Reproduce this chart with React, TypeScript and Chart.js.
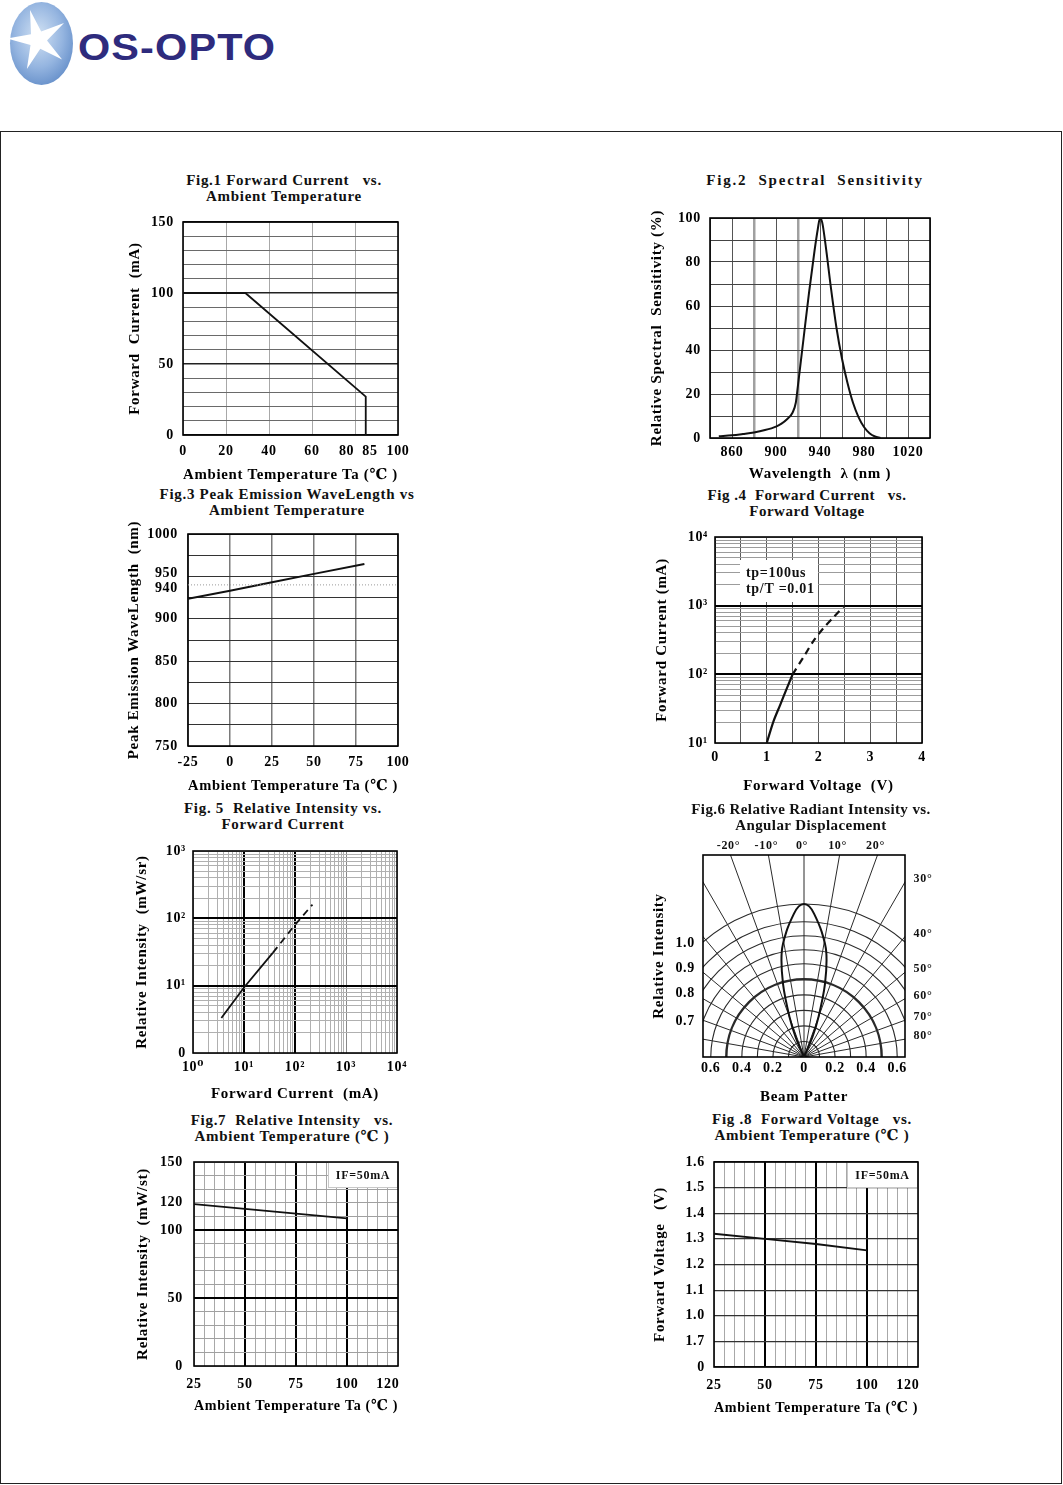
import React, { useEffect, useRef } from 'react';
import { Chart, registerables } from 'chart.js';

Chart.register(...registerables);

// ---------------- shared style ----------------
const SERIF = '"Liberation Serif", "Times New Roman", "DejaVu Serif", serif';
const TICK_SIZE = 14;
const AXIS_FONT = { family: SERIF, size: 15, weight: 'bold' };
const AXIS_LH = 15 * 1.2;
const INK = '#111111';
const NONE = 'rgba(0,0,0,0)';

// ---------------- Fig.1 Forward Current vs Ambient Temperature ----------------
const F1_TEMP = [0, 29, 85, 85];
const F1_CURRENT = [100, 100, 27, 0];
const F1_X_TICKS = [0, 20, 40, 60, 80, 85, 100];
const F1_X_LABELS = ['0', '20', '40', '60', '80    ', '  85', '100'];
const F1_Y_GRID = [0, 10, 20, 30, 40, 50, 60, 70, 80, 90, 100, 110, 120, 130, 140, 150];
const F1_Y_TICKS = [0, 50, 100, 150];
const F1_Y_LABELS = ['0', '50', '100', '150'];

// ---------------- Fig.2 Spectral Sensitivity ----------------
const F2_WAVELENGTH = [848, 860, 870, 880, 890, 900, 905, 910, 915, 918, 920, 925, 930, 935, 938, 940, 942, 945, 950, 955, 960, 965, 970, 975, 980, 985, 990, 995];
const F2_SENSITIVITY = [0.8, 1.2, 1.8, 2.5, 3.6, 5.2, 6.5, 8.5, 11.5, 16, 24, 45, 66, 85, 95, 100, 98, 88, 68, 50, 36, 25, 16, 9.5, 5, 2.2, 0.7, 0];
const F2_X_GRID = [840, 860, 880, 900, 920, 940, 960, 980, 1000, 1020, 1040];
const F2_X_TICKS = [860, 900, 940, 980, 1020];
const F2_X_LABELS = ['860', '900', '940', '980', '1020'];
const F2_Y_GRID = [0, 10, 20, 30, 40, 50, 60, 70, 80, 90, 100];
const F2_Y_TICKS = [0, 20, 40, 60, 80, 100];
const F2_Y_LABELS = ['0', '20', '40', '60', '80', '100'];

// ---------------- Fig.3 Peak Emission Wavelength vs Ambient Temperature ----------------
const F3_TEMP = [-25, 0, 25, 50, 80];
const F3_WAVELENGTH = [923.5, 933, 943, 953, 964.5];
const F3_REF_TEMP = [-25, 100];
const F3_REF_WAVELENGTH = [940, 940];
const F3_X_TICKS = [-25, 0, 25, 50, 75, 100];
const F3_X_LABELS = ['-25', '0', '25', '50', '75', '100'];
const F3_Y_GRID = [750, 775, 800, 825, 850, 875, 900, 925, 950, 975, 1000];
const F3_Y_TICKS = [750, 800, 850, 900, 940, 950, 1000];
const F3_Y_LABELS: (string | string[])[] = ['750', '800', '850', '900', ['', '940'], ['950', ''], '1000'];

// ---------------- Fig.4 Forward Current vs Forward Voltage ----------------
const F4_SOLID_V = [1.0, 1.13, 1.26, 1.39, 1.5];
const F4_SOLID_I = [10, 20.7, 36, 63, 100];
const F4_DASH_V = [1.5, 1.74, 1.9, 2.1, 2.29, 2.5];
const F4_DASH_I = [100, 194, 304, 475, 680, 1000];
const F4_X_GRID = [0, 0.5, 1, 1.5, 2, 2.5, 3, 3.5, 4];
const F4_X_TICKS = [0, 1, 2, 3, 4];
const F4_X_LABELS = ['0', '1', '2', '3', '4'];
const F4_Y_TICKS = [10, 100, 1000, 10000];
const F4_Y_LABELS = ['10¹', '10²', '10³', '10⁴'];
const F4_NOTE = ['tp=100us', 'tp/T =0.01'];

// ---------------- Fig.5 Relative Intensity vs Forward Current ----------------
const F5_SOLID_I = [3.6, 10, 37];
const F5_SOLID_P = [3.3, 9.4, 31];
const F5_DASH_I = [37, 100, 220];
const F5_DASH_P = [31, 80, 160];
const F5_X_TICKS = [1, 10, 100, 1000, 10000];
const F5_X_LABELS = ['10⁰', '10¹', '10²', '10³', '10⁴'];
const F5_Y_TICKS = [1, 10, 100, 1000];
const F5_Y_LABELS = ['0', '10¹', '10²', '10³'];

// ---------------- Fig.6 Relative Radiant Intensity vs Angular Displacement ----------------
const F6_ANGLE = [-30, -23, -20, -16, -12, -8, -4, -2, 0, 2, 4, 8, 12, 16, 20, 23, 30];
const F6_INTENSITY = [0, 0.135, 0.27, 0.49, 0.69, 0.815, 0.925, 0.97, 0.985, 0.97, 0.925, 0.815, 0.69, 0.49, 0.27, 0.135, 0];
const F6_RINGS = [0.1, 0.2, 0.3, 0.4, 0.5, 0.6, 0.69, 0.78, 0.87, 0.985];
const F6_THICK_RING = 0.5;
const F6_SPOKES = [-80, -70, -60, -50, -40, -30, -20, -10, 0, 10, 20, 30, 40, 50, 60, 70, 80];
const F6_TOP_ANGLES = [-20, -10, 0, 10, 20];
const F6_SIDE_ANGLES = [30, 40, 50, 60, 70, 80];
const F6_X_TICKS = [-0.6, -0.4, -0.2, 0, 0.2, 0.4, 0.6];
const F6_X_LABELS = ['0.6', '0.4', '0.2', '0', '0.2', '0.4', '0.6'];
const F6_Y_TICKS = [0.23, 0.41, 0.57, 0.73];
const F6_Y_LABELS = ['0.7', '0.8', '0.9', '1.0'];

// ---------------- Fig.7 Relative Intensity vs Ambient Temperature ----------------
const F7_TEMP = [25, 50, 75, 100];
const F7_INTENSITY = [119, 115.5, 112, 108.5];
const F7_Y_GRID = [0, 10, 20, 30, 40, 50, 60, 70, 80, 90, 100, 110, 120, 130, 140, 150];
const F7_Y_TICKS = [0, 50, 100, 120, 150];
const F7_Y_LABELS = ['0', '50', '100', '120', '150'];

// ---------------- Fig.8 Forward Voltage vs Ambient Temperature ----------------
const F8_TEMP = [25, 50, 75, 100];
const F8_VOLTAGE = [1.32, 1.3, 1.28, 1.255];
const F8_Y_TICKS = [0.8, 0.9, 1.0, 1.1, 1.2, 1.3, 1.4, 1.5, 1.6];
const F8_Y_LABELS = ['0', '1.7', '1.0', '1.1', '1.2', '1.3', '1.4', '1.5', '1.6'];

// shared temperature axis (Fig.7 / Fig.8)
const TEMP_GRID = [25, 30, 35, 40, 45, 50, 55, 60, 65, 70, 75, 80, 85, 90, 95, 100, 105, 110, 115, 120, 125];
const TEMP_MAJOR = [50, 75, 100];
const TEMP_TICKS = [25, 50, 75, 100, 120];
const TEMP_LABELS = ['25', '50', '75', '100', '120'];
const IF_NOTE = ['IF=50mA'];

// ---------------- helpers ----------------
const near = (a: number, b: number) => Math.abs(a - b) < 1e-9 * Math.max(1, Math.abs(b));
const inList = (v: number, list: number[]) => list.some((u) => near(v, u));

function labeler(values: number[], labels: any[]) {
  return (v: number) => {
    const i = values.findIndex((u) => near(v, u));
    return i >= 0 ? labels[i] : '';
  };
}

function logGrid(lo: number, hi: number) {
  const out: number[] = [];
  for (let e = lo; e < hi; e++) for (let m = 1; m < 10; m++) out.push(m * Math.pow(10, e));
  out.push(Math.pow(10, hi));
  return out;
}

function axis(o: any) {
  const grid: number[] = o.grid;
  const gridAndTicks = Array.from(new Set([...grid, ...o.ticks])).sort((a: number, b: number) => a - b);
  const lbl = labeler(o.ticks, o.labels);
  return {
    type: o.type || 'linear',
    min: o.min,
    max: o.max,
    afterBuildTicks: (s: any) => {
      s.ticks = gridAndTicks.map((v) => ({ value: v }));
    },
    grid: {
      display: o.showGrid !== false,
      drawTicks: false,
      color: (c: any) => (c.tick && inList(c.tick.value, grid) ? o.color(c.tick.value) : NONE),
      lineWidth: (c: any) => (c.tick && inList(c.tick.value, grid) ? o.width(c.tick.value) : 0),
    },
    border: { display: false },
    ticks: {
      font: (c: any) => ({
        family: SERIF,
        size: TICK_SIZE,
        weight: 'bold',
        lineHeight: c.tick && Array.isArray(lbl(c.tick.value)) ? 0.5 : 1.2,
      }),
      color: '#000',
      padding: o.pad,
      autoSkip: false,
      maxRotation: 0,
      minRotation: 0,
      callback: (v: number) => lbl(v),
    },
    title: { display: true, text: o.title, font: AXIS_FONT, color: '#000', padding: 0 },
  };
}

function series(xs: number[], ys: number[], extra: any = {}) {
  return {
    data: xs.map((x, i) => ({ x, y: ys[i] })),
    showLine: true,
    borderColor: INK,
    borderWidth: 2,
    pointRadius: 0,
    fill: false,
    tension: 0,
    ...extra,
  };
}

type Note = { side: 'left' | 'right'; dx: number; dy: number; w: number; h: number; lines: string[]; size: number; border?: boolean };

function paperPlugin(notes: Note[] = []) {
  return {
    id: 'paper',
    beforeDraw(chart: any) {
      chart.ctx.letterSpacing = '0.7px';
    },
    beforeDatasetsDraw(chart: any) {
      const { ctx, chartArea: a } = chart;
      ctx.save();
      notes.forEach((n) => {
        const x = n.side === 'left' ? a.left + n.dx : a.right - n.dx - n.w;
        const y = a.top + n.dy;
        ctx.fillStyle = '#ffffff';
        ctx.fillRect(x, y, n.w, n.h);
        if (n.border) {
          ctx.strokeStyle = '#c8c8c8';
          ctx.lineWidth = 1;
          ctx.strokeRect(x + 0.5, y + 0.5, n.w - 1, n.h - 1);
        }
        ctx.fillStyle = '#111';
        ctx.font = `bold ${n.size}px ${SERIF}`;
        ctx.textBaseline = 'middle';
        if (n.lines.length === 1) {
          ctx.textAlign = 'center';
          ctx.fillText(n.lines[0], x + n.w / 2, y + n.h / 2 + 1);
        } else {
          ctx.textAlign = 'left';
          const lh = n.h / (n.lines.length + 0.6);
          n.lines.forEach((t, i) => ctx.fillText(t, x + 6, y + lh * (0.8 + i)));
        }
      });
      ctx.strokeStyle = '#000';
      ctx.lineWidth = 1.6;
      ctx.strokeRect(a.left, a.top, a.right - a.left, a.bottom - a.top);
      ctx.restore();
    },
  };
}

const polarPlugin = {
  id: 'polar',
  beforeDatasetsDraw(chart: any) {
    const { ctx, chartArea: a, scales } = chart;
    const x = scales.x;
    const y = scales.y;
    const cx = x.getPixelForValue(0);
    const cy = y.getPixelForValue(0);
    const unit = x.getPixelForValue(1) - cx;
    ctx.save();
    ctx.beginPath();
    ctx.rect(a.left, a.top, a.right - a.left, a.bottom - a.top);
    ctx.clip();
    ctx.strokeStyle = '#2a2a2a';
    F6_SPOKES.forEach((deg) => {
      const t = (deg * Math.PI) / 180;
      ctx.lineWidth = 1;
      ctx.beginPath();
      ctx.moveTo(cx, cy);
      ctx.lineTo(x.getPixelForValue(3 * Math.sin(t)), y.getPixelForValue(3 * Math.cos(t)));
      ctx.stroke();
    });
    F6_RINGS.forEach((r) => {
      ctx.lineWidth = near(r, F6_THICK_RING) ? 2.4 : 1.1;
      ctx.beginPath();
      ctx.arc(cx, cy, r * unit, Math.PI, 2 * Math.PI);
      ctx.stroke();
    });
    ctx.restore();
  },
  afterDraw(chart: any) {
    const { ctx, chartArea: a, scales } = chart;
    const x = scales.x;
    const y = scales.y;
    ctx.save();
    ctx.fillStyle = '#111';
    ctx.font = `bold 12px ${SERIF}`;
    ctx.textBaseline = 'middle';
    ctx.textAlign = 'center';
    F6_TOP_ANGLES.forEach((deg) => {
      const xv = y.max * Math.tan((deg * Math.PI) / 180);
      ctx.fillText(`${deg}°`, x.getPixelForValue(xv) - 2, a.top - 9);
    });
    F6_SIDE_ANGLES.forEach((deg) => {
      const yv = x.max / Math.tan((deg * Math.PI) / 180);
      ctx.fillText(`${deg}°`, a.right + 18, y.getPixelForValue(yv) - 3);
    });
    ctx.restore();
  },
};

function makeConfig(datasets: any[], x: any, y: any, plugins: any[]) {
  return {
    type: 'scatter',
    data: { datasets },
    options: {
      animation: false,
      responsive: false,
      events: [],
      plugins: { legend: { display: false }, tooltip: { enabled: false } },
      scales: { x, y },
    },
    plugins,
  };
}

type Plot = { L: number; T: number; R: number; B: number };

function ChartCanvas({ plot, yTitleX, xTitleY, padT = 14, padR = 24, make }: { plot: Plot; yTitleX: number; xTitleY: number; padT?: number; padR?: number; make: () => any }) {
  const ref = useRef<HTMLCanvasElement>(null);
  const left = Math.round(yTitleX - AXIS_LH / 2);
  const top = plot.T - padT;
  const width = plot.R + padR - left;
  const height = Math.round(xTitleY + AXIS_LH / 2) - top;
  const yW = plot.L - left;
  const xH = height - padT - (plot.B - plot.T);
  useEffect(() => {
    if (!ref.current) return;
    const cfg = make();
    cfg.options.layout = { autoPadding: false, padding: { top: padT, right: padR, left: 0, bottom: 0 } };
    cfg.options.scales.x.afterFit = (s: any) => {
      s.height = xH;
      s.paddingLeft = 0;
      s.paddingRight = 0;
    };
    cfg.options.scales.y.afterFit = (s: any) => {
      s.width = yW;
      s.paddingTop = 0;
      s.paddingBottom = 0;
    };
    const chart = new Chart(ref.current, cfg);
    return () => chart.destroy();
  }, []);
  return <canvas ref={ref} width={width} height={height} style={{ position: 'absolute', left, top, width, height }} />;
}

function FigTitle({ cx, y, lines, spacing = 0.7 }: { cx: number; y: number; lines: string[]; spacing?: number }) {
  return (
    <div
      style={{
        position: 'absolute',
        left: cx - 220,
        width: 440,
        top: y - 8.5,
        textAlign: 'center',
        font: `bold 15px ${SERIF}`,
        lineHeight: '16.5px',
        letterSpacing: `${spacing}px`,
        color: '#111',
        whiteSpace: 'pre',
      }}
    >
      {lines.map((l, i) => (
        <div key={i}>{l}</div>
      ))}
    </div>
  );
}

function Logo() {
  const pts: string[] = [];
  for (let i = 0; i < 10; i++) {
    const r = i % 2 === 0 ? 31 : 9;
    const ang = ((-105 + i * 36) * Math.PI) / 180;
    pts.push(`${(38 + r * Math.cos(ang)).toFixed(1)},${(40 + r * Math.sin(ang)).toFixed(1)}`);
  }
  return (
    <>
      <svg style={{ position: 'absolute', left: 0, top: 0 }} width={80} height={90}>
        <defs>
          <radialGradient id="osg" cx="0.45" cy="0.4" r="0.7">
            <stop offset="0" stopColor="#d2e2f4" />
            <stop offset="0.55" stopColor="#95b5e0" />
            <stop offset="1" stopColor="#5a86c4" />
          </radialGradient>
        </defs>
        <ellipse cx={41.5} cy={43.5} rx={31.5} ry={41.5} fill="url(#osg)" />
        <polygon points={pts.join(' ')} fill="#ffffff" />
      </svg>
      <div
        style={{
          position: 'absolute',
          left: 78,
          top: 26,
          font: 'bold 37px "Liberation Sans", Arial, sans-serif',
          lineHeight: '44px',
          color: '#2e2b7d',
          transform: 'scaleX(1.12)',
          transformOrigin: 'left top',
          letterSpacing: '1px',
        }}
      >
        OS-OPTO
      </div>
    </>
  );
}

// ---------------- chart configs ----------------
const fig1 = () =>
  makeConfig(
    [series(F1_TEMP, F1_CURRENT, { borderWidth: 1.8 })],
    axis({ min: 0, max: 100, grid: [0, 20, 40, 60, 80, 100], ticks: F1_X_TICKS, labels: F1_X_LABELS, color: () => '#a8a8a8', width: () => 1, pad: 8, title: 'Ambient Temperature Ta (℃ )' }),
    axis({ min: 0, max: 150, grid: F1_Y_GRID, ticks: F1_Y_TICKS, labels: F1_Y_LABELS, color: (v: number) => (v % 50 === 0 ? '#222' : '#6a6a6a'), width: (v: number) => (v % 50 === 0 ? 1.5 : 1), pad: 9, title: 'Forward  Current  (mA)' }),
    [paperPlugin()]
  );

const fig2 = () =>
  makeConfig(
    [series(F2_WAVELENGTH, F2_SENSITIVITY, { cubicInterpolationMode: 'monotone', borderWidth: 2 })],
    axis({ min: 840, max: 1040, grid: F2_X_GRID, ticks: F2_X_TICKS, labels: F2_X_LABELS, color: (v: number) => (v === 880 || v === 920 ? '#a0a0a0' : '#555'), width: (v: number) => (v === 880 || v === 920 ? 2.5 : 1), pad: 6, title: 'Wavelength  λ (nm )' }),
    axis({ min: 0, max: 100, grid: F2_Y_GRID, ticks: F2_Y_TICKS, labels: F2_Y_LABELS, color: () => '#444', width: () => 1, pad: 9, title: 'Relative Spectral  Sensitivity (%)' }),
    [paperPlugin()]
  );

const fig3 = () =>
  makeConfig(
    [
      series(F3_REF_TEMP, F3_REF_WAVELENGTH, { borderColor: '#9a9a9a', borderWidth: 1, borderDash: [1, 2] }),
      series(F3_TEMP, F3_WAVELENGTH, { borderWidth: 2 }),
    ],
    axis({ min: -25, max: 100, grid: F3_X_TICKS, ticks: F3_X_TICKS, labels: F3_X_LABELS, color: () => '#7a7a7a', width: () => 1.5, pad: 8, title: 'Ambient Temperature Ta (℃ )' }),
    axis({ min: 750, max: 1000, grid: F3_Y_GRID, ticks: F3_Y_TICKS, labels: F3_Y_LABELS, color: () => '#333', width: () => 1, pad: 10, title: 'Peak Emission WaveLength  (nm)' }),
    [paperPlugin()]
  );

const fig4 = () =>
  makeConfig(
    [
      series(F4_SOLID_V, F4_SOLID_I, { tension: 0.3, borderWidth: 2.2 }),
      series(F4_DASH_V, F4_DASH_I, { tension: 0.3, borderWidth: 2.2, borderDash: [7, 5] }),
    ],
    axis({ min: 0, max: 4, grid: F4_X_GRID, ticks: F4_X_TICKS, labels: F4_X_LABELS, color: () => '#5a5a5a', width: () => 1, pad: 6, title: 'Forward Voltage  (V)' }),
    axis({ type: 'logarithmic', min: 10, max: 10000, grid: logGrid(1, 4), ticks: F4_Y_TICKS, labels: F4_Y_LABELS, color: (v: number) => (v === 100 || v === 1000 ? '#000' : '#9c9c9c'), width: (v: number) => (v === 100 || v === 1000 ? 2 : 1), pad: 7, title: 'Forward Current (mA)' }),
    [paperPlugin([{ side: 'left', dx: 25, dy: 23, w: 78, h: 42, lines: F4_NOTE, size: 14 }])]
  );

const fig5 = () =>
  makeConfig(
    [
      series(F5_SOLID_I, F5_SOLID_P, { borderWidth: 1.8 }),
      series(F5_DASH_I, F5_DASH_P, { borderWidth: 1.8, borderDash: [7, 5] }),
    ],
    axis({ type: 'logarithmic', min: 1, max: 10000, grid: logGrid(0, 4), ticks: F5_X_TICKS, labels: F5_X_LABELS, color: (v: number) => (v === 10 || v === 100 ? '#000' : v === 1000 ? '#888' : '#b0b0b0'), width: (v: number) => (v === 10 || v === 100 ? 2 : 1), pad: 6, title: 'Forward Current  (mA)' }),
    axis({ type: 'logarithmic', min: 1, max: 1000, grid: logGrid(0, 3), ticks: F5_Y_TICKS, labels: F5_Y_LABELS, color: (v: number) => (v === 10 || v === 100 ? '#000' : '#b0b0b0'), width: (v: number) => (v === 10 || v === 100 ? 2 : 1), pad: 7, title: 'Relative Intensity  (mW/sr)' }),
    [paperPlugin()]
  );

const fig6 = () =>
  makeConfig(
    [
      series(
        F6_ANGLE.map((d, i) => F6_INTENSITY[i] * Math.sin((d * Math.PI) / 180)),
        F6_ANGLE.map((d, i) => F6_INTENSITY[i] * Math.cos((d * Math.PI) / 180)),
        { tension: 0.35, borderWidth: 2 }
      ),
    ],
    axis({ min: -0.65, max: 0.65, grid: [], showGrid: false, ticks: F6_X_TICKS, labels: F6_X_LABELS, color: () => NONE, width: () => 0, pad: 3, title: 'Beam Patter' }),
    axis({ min: 0, max: 1.3, grid: [], showGrid: false, ticks: F6_Y_TICKS, labels: F6_Y_LABELS, color: () => NONE, width: () => 0, pad: 8, title: 'Relative Intensity' }),
    [polarPlugin, paperPlugin()]
  );

const tempAxis = () =>
  axis({ min: 25, max: 125, grid: TEMP_GRID, ticks: TEMP_TICKS, labels: TEMP_LABELS, color: (v: number) => (TEMP_MAJOR.includes(v) ? '#000' : '#a8a8a8'), width: (v: number) => (TEMP_MAJOR.includes(v) ? 2 : 1), pad: 10, title: 'Ambient Temperature Ta (℃ )' });

const fig7 = () =>
  makeConfig(
    [series(F7_TEMP, F7_INTENSITY, { borderWidth: 1.8 })],
    tempAxis(),
    axis({ min: 0, max: 150, grid: F7_Y_GRID, ticks: F7_Y_TICKS, labels: F7_Y_LABELS, color: (v: number) => (v === 50 || v === 100 ? '#000' : '#a0a0a0'), width: (v: number) => (v === 50 || v === 100 ? 2 : 1), pad: 11, title: 'Relative Intensity  (mW/st)' }),
    [paperPlugin([{ side: 'right', dx: 0, dy: 0, w: 70, h: 26, lines: IF_NOTE, size: 12, border: true }])]
  );

const fig8 = () =>
  makeConfig(
    [series(F8_TEMP, F8_VOLTAGE, { borderWidth: 1.8 })],
    tempAxis(),
    axis({ min: 0.8, max: 1.6, grid: F8_Y_TICKS, ticks: F8_Y_TICKS, labels: F8_Y_LABELS, color: () => '#333', width: () => 1.2, pad: 9, title: 'Forward Voltage   (V)' }),
    [paperPlugin([{ side: 'right', dx: 0, dy: 0, w: 71, h: 26, lines: IF_NOTE, size: 12, border: true }])]
  );

export default function App() {
  return (
    <div style={{ position: 'absolute', left: 0, top: 0, width: 1063, height: 1485, background: '#fff', overflow: 'hidden' }}>
      <Logo />
      <div style={{ position: 'absolute', left: 0, top: 131, width: 1062, height: 1353, border: '1px solid #222', boxSizing: 'border-box' }} />

      <ChartCanvas plot={{ L: 183, T: 222, R: 398, B: 435 }} yTitleX={135} xTitleY={475} make={fig1} />
      <ChartCanvas plot={{ L: 710, T: 218, R: 930, B: 438 }} yTitleX={657} xTitleY={474} make={fig2} />
      <ChartCanvas plot={{ L: 188, T: 534, R: 398, B: 746 }} yTitleX={134} xTitleY={786} make={fig3} />
      <ChartCanvas plot={{ L: 715, T: 537, R: 922, B: 743 }} yTitleX={662} xTitleY={786} make={fig4} />
      <ChartCanvas plot={{ L: 193, T: 851, R: 397, B: 1053 }} yTitleX={142} xTitleY={1094} make={fig5} />
      <ChartCanvas plot={{ L: 703, T: 855, R: 905, B: 1057 }} yTitleX={659} xTitleY={1097} padT={22} padR={40} make={fig6} />
      <ChartCanvas plot={{ L: 194, T: 1162, R: 398, B: 1366 }} yTitleX={143} xTitleY={1406} make={fig7} />
      <ChartCanvas plot={{ L: 714, T: 1162, R: 918, B: 1367 }} yTitleX={660} xTitleY={1408} make={fig8} />

      <FigTitle cx={284} y={180} lines={['Fig.1 Forward Current   vs.', 'Ambient Temperature']} />
      <FigTitle cx={815} y={180} spacing={1.8} lines={['Fig.2  Spectral  Sensitivity']} />
      <FigTitle cx={287} y={494} lines={['Fig.3 Peak Emission WaveLength vs', 'Ambient Temperature']} />
      <FigTitle cx={807} y={495} spacing={0.5} lines={['Fig .4  Forward Current   vs.', 'Forward Voltage']} />
      <FigTitle cx={283} y={808} lines={['Fig. 5  Relative Intensity vs.', 'Forward Current']} />
      <FigTitle cx={811} y={809} spacing={0.4} lines={['Fig.6 Relative Radiant Intensity vs.', 'Angular Displacement']} />
      <FigTitle cx={292} y={1120} lines={['Fig.7  Relative Intensity   vs.', 'Ambient Temperature (℃ )']} />
      <FigTitle cx={812} y={1119} lines={['Fig .8  Forward Voltage   vs.', 'Ambient Temperature (℃ )']} />
    </div>
  );
}
